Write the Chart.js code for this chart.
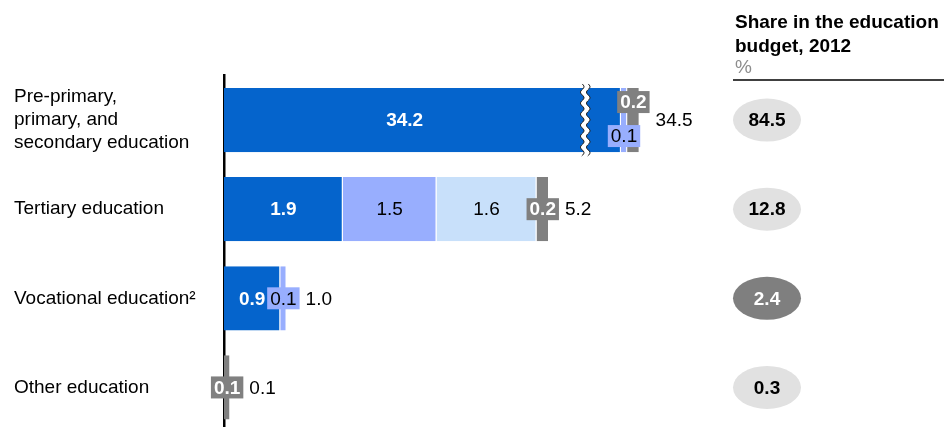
<!DOCTYPE html>
<html>
<head>
<meta charset="utf-8">
<title>Education spending</title>
<script src="https://cdn.jsdelivr.net/npm/chart.js@4.4.0/dist/chart.umd.min.js"></script>
<style>
  html, body { margin: 0; padding: 0; background: #fff; overflow: hidden; }
  canvas { display: block; }
</style>
</head>
<body>
<canvas id="eduChart" width="944" height="432"></canvas>
<script>
// ---- data ----
const categories = [
  ["Pre-primary,", "primary, and", "secondary education"],
  "Tertiary education",
  "Vocational education²",
  "Other education"
];
const seriesDark  = [34.2, 1.9, 0.9, 0];
const seriesMid   = [0.1, 1.5, 0.1, 0];
const seriesLight = [0, 1.6, 0, 0];
const seriesGray  = [0.2, 0.2, 0, 0.1];
const budgetShare = [84.5, 12.8, 2.4, 0.3];
const highlightRow = 2;

// the long bar is cut off here and shown with a break
const breakCap = 6.35;
const breakAt = 5.78;

const seriesList = [seriesDark, seriesMid, seriesLight, seriesGray];
const colors = ["#0564cc", "#98aefe", "#c8e0fa", "#808080"];
const FONT = '"Liberation Sans", Arial, sans-serif';

Chart.defaults.font.family = FONT;
Chart.defaults.font.size = 19;
Chart.defaults.color = "#000";

// ---- helpers ----
function fmt(v) {
  return v.toFixed(1);
}

function wavyPath(ctx, x, y0, y1, amp, len) {
  ctx.moveTo(x, y0);
  for (let y = y0; y <= y1; y += 1) {
    ctx.lineTo(x + amp * Math.sin((y - y0) / len * Math.PI * 2), y);
  }
}

// ---- break marks + value labels ----
const segmentLabels = {
  id: "segmentLabels",
  afterDatasetsDraw(chart) {
    const { ctx, scales: { x } } = chart;
    const breakPx = x.getPixelForValue(breakAt);

    categories.forEach((_, row) => {
      let barEnd = 0;
      let rowY = 0;
      const smalls = [];

      seriesList.forEach((vals, i) => {
        const v = vals[row];
        if (!v) return;
        const bar = chart.getDatasetMeta(i).data[row];
        const left = bar.base;
        const right = bar.x;
        rowY = bar.y;
        barEnd = Math.max(barEnd, right);

        if (v > breakCap) {
          // wavy break through the bar
          const top = bar.y - bar.height / 2 - 4;
          const bottom = bar.y + bar.height / 2 + 4;
          ctx.save();
          ctx.beginPath();
          wavyPath(ctx, breakPx - 3, top, bottom, 1.8, 11);
          for (let y = bottom; y >= top; y -= 1) {
            ctx.lineTo(breakPx + 3 + 1.8 * Math.sin((y - top) / 11 * Math.PI * 2), y);
          }
          ctx.closePath();
          ctx.fillStyle = "#fff";
          ctx.fill();
          ctx.strokeStyle = "#222";
          ctx.lineWidth = 1;
          ctx.beginPath();
          wavyPath(ctx, breakPx - 3, top, bottom, 1.8, 11);
          ctx.stroke();
          ctx.beginPath();
          wavyPath(ctx, breakPx + 3, top, bottom, 1.8, 11);
          ctx.stroke();
          ctx.restore();
        }

        const width = right - left;
        const bold = i === 0 || i === 3;
        const textColor = bold ? "#fff" : "#000";
        if (width >= 30) {
          const cx = v > breakCap ? (left + breakPx) / 2 : (left + right) / 2;
          ctx.save();
          ctx.font = (bold ? "bold " : "") + "19px " + FONT;
          ctx.fillStyle = textColor;
          ctx.textAlign = "center";
          ctx.textBaseline = "middle";
          ctx.fillText(fmt(v), cx, bar.y + 1);
          ctx.restore();
        } else {
          smalls.push({ v, cx: (left + right) / 2, y: bar.y, color: colors[i], bold, textColor });
        }
      });

      // small segments get a boxed label; two of them are split up/down
      let boxRight = 0;
      smalls.forEach((s, k) => {
        let dy = 0;
        if (smalls.length > 1) dy = k === 0 ? 16 : -18;
        ctx.save();
        ctx.font = (s.bold ? "bold " : "") + "19px " + FONT;
        const w = ctx.measureText(fmt(s.v)).width + 6;
        const h = 22;
        ctx.fillStyle = s.color;
        ctx.fillRect(s.cx - w / 2, s.y + dy - h / 2, w, h);
        ctx.fillStyle = s.textColor;
        ctx.textAlign = "center";
        ctx.textBaseline = "middle";
        ctx.fillText(fmt(s.v), s.cx, s.y + dy + 1);
        ctx.restore();
        boxRight = Math.max(boxRight, s.cx + w / 2);
      });

      // total at the end of the bar
      const total = seriesList.reduce((sum, vals) => sum + vals[row], 0);
      ctx.save();
      ctx.font = "19px " + FONT;
      ctx.fillStyle = "#000";
      ctx.textAlign = "left";
      ctx.textBaseline = "middle";
      ctx.fillText(fmt(total), Math.max(barEnd, boxRight) + 6, rowY + 1);
      ctx.restore();
    });
  }
};

// ---- right-hand column: share in budget ----
const shareColumn = {
  id: "shareColumn",
  afterDraw(chart) {
    const { ctx, scales: { y } } = chart;
    ctx.save();
    ctx.fillStyle = "#000";
    ctx.textAlign = "left";
    ctx.textBaseline = "alphabetic";
    ctx.font = "bold 19px " + FONT;
    ctx.fillText("Share in the education", 735, 28);
    ctx.fillText("budget, 2012", 735, 52);
    ctx.font = "19px " + FONT;
    ctx.fillStyle = "#8c8c8c";
    ctx.fillText("%", 735, 73);

    ctx.strokeStyle = "#000";
    ctx.lineWidth = 1.5;
    ctx.beginPath();
    ctx.moveTo(733, 80);
    ctx.lineTo(944, 80);
    ctx.stroke();

    budgetShare.forEach((v, row) => {
      const cy = y.getPixelForValue(row);
      const dark = row === highlightRow;
      ctx.beginPath();
      ctx.ellipse(767, cy, 34, 21.5, 0, 0, Math.PI * 2);
      ctx.fillStyle = dark ? "#7f7f7f" : "#e1e1e1";
      ctx.fill();
      ctx.font = "bold 19px " + FONT;
      ctx.fillStyle = dark ? "#fff" : "#000";
      ctx.textAlign = "center";
      ctx.textBaseline = "middle";
      ctx.fillText(fmt(v), 767, cy + 1);
    });
    ctx.restore();
  }
};

// ---- chart ----
new Chart(document.getElementById("eduChart"), {
  type: "bar",
  data: {
    labels: categories,
    datasets: seriesList.map((vals, i) => ({
      data: vals.map(v => (v ? Math.min(v, breakCap) : null)),
      backgroundColor: colors[i],
      borderColor: "#fff",
      borderWidth: { left: 0, top: 0, bottom: 0, right: 1 },
      borderSkipped: false,
      barPercentage: 0.72,
      categoryPercentage: 1
    }))
  },
  options: {
    indexAxis: "y",
    responsive: false,
    animation: false,
    layout: { padding: { left: 14, top: 75.5, right: 220, bottom: 0 } },
    plugins: {
      legend: { display: false },
      tooltip: { enabled: false }
    },
    scales: {
      x: {
        stacked: true,
        display: false,
        min: 0,
        max: 8
      },
      y: {
        stacked: true,
        z: 1,
        grid: { display: false },
        border: { display: true, color: "#000", width: 2.5 },
        ticks: {
          crossAlign: "far",
          color: "#000",
          font: { size: 19, lineHeight: 1.2 }
        },
        afterFit(scale) {
          scale.width = 210;
          // the tall first label should not push the plot up from the bottom
          scale.paddingTop = 0;
          scale.paddingBottom = 0;
        }
      }
    }
  },
  plugins: [segmentLabels, shareColumn]
});
</script>
</body>
</html>
